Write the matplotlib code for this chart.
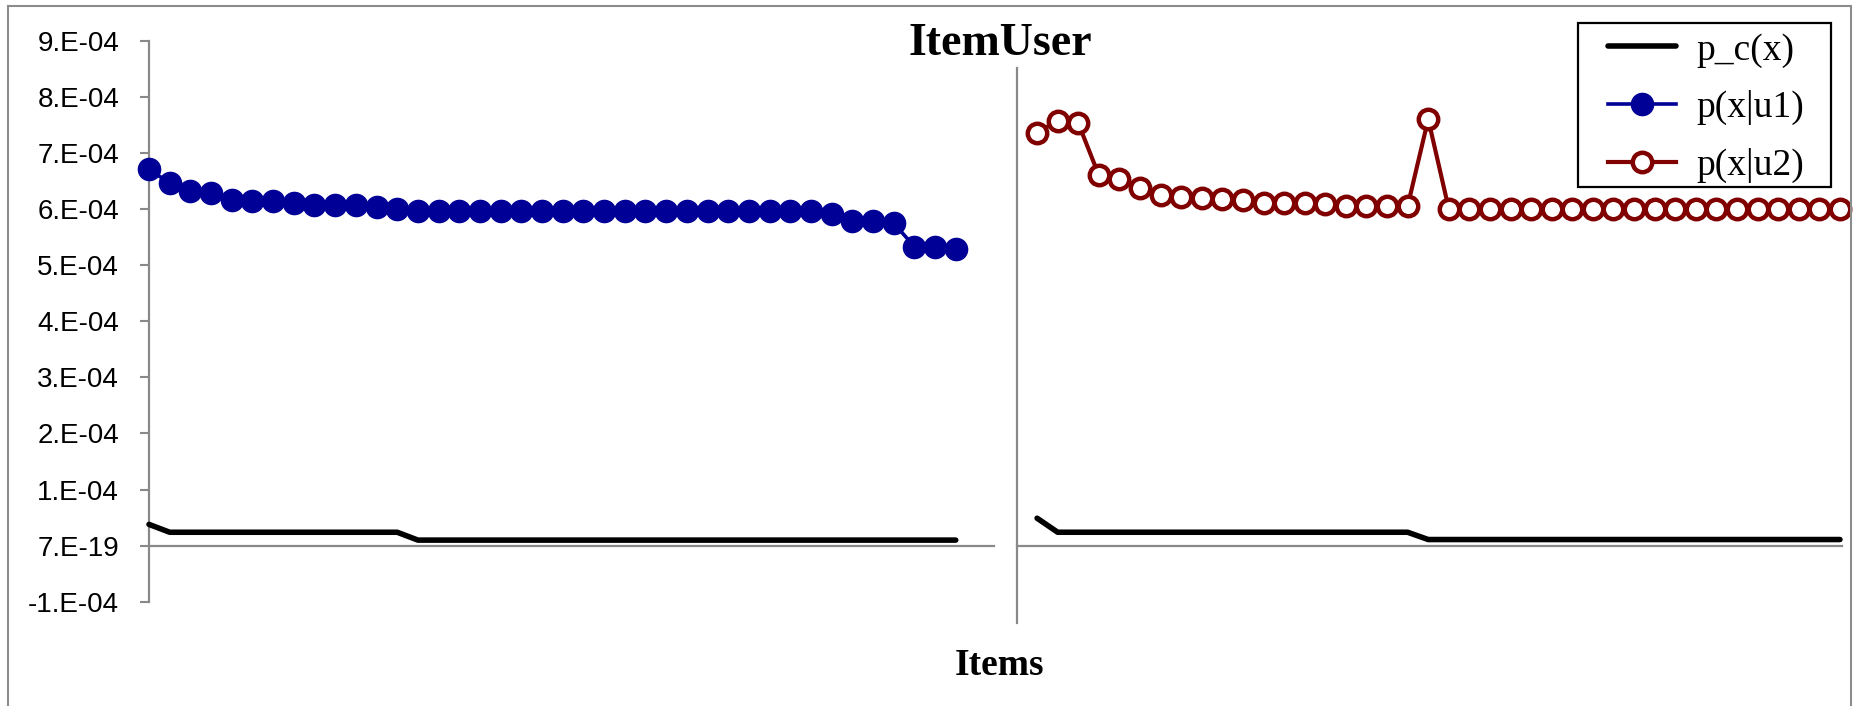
import matplotlib
matplotlib.use("Agg")
import matplotlib.pyplot as plt
from matplotlib.patches import Rectangle
from matplotlib.lines import Line2D
import numpy as np

# values, in units of 1e-4
scale = 1e-4
pc_left = [0.38, 0.24, 0.24, 0.24, 0.24, 0.24, 0.24, 0.24, 0.24, 0.24,
           0.24, 0.24, 0.24, 0.10, 0.10, 0.10, 0.10, 0.10, 0.10, 0.10,
           0.10, 0.10, 0.10, 0.10, 0.10, 0.10, 0.10, 0.10, 0.10, 0.10,
           0.10, 0.10, 0.10, 0.10, 0.10, 0.10, 0.10, 0.10, 0.10, 0.10]
p_u1 = [6.71, 6.46, 6.33, 6.29, 6.17, 6.15, 6.14, 6.10, 6.07, 6.07,
        6.07, 6.03, 6.00, 5.96, 5.96, 5.96, 5.96, 5.96, 5.96, 5.96,
        5.96, 5.96, 5.96, 5.96, 5.96, 5.96, 5.96, 5.96, 5.96, 5.96,
        5.96, 5.96, 5.96, 5.92, 5.79, 5.79, 5.75, 5.33, 5.33, 5.29]
pc_right = [0.49, 0.24, 0.24, 0.24, 0.24, 0.24, 0.24, 0.24, 0.24, 0.24,
            0.24, 0.24, 0.24, 0.24, 0.24, 0.24, 0.24, 0.24, 0.24, 0.11,
            0.11, 0.11, 0.11, 0.11, 0.11, 0.11, 0.11, 0.11, 0.11, 0.11,
            0.11, 0.11, 0.11, 0.11, 0.11, 0.11, 0.11, 0.11, 0.11, 0.11]
p_u2 = [7.36, 7.57, 7.53, 6.60, 6.53, 6.37, 6.25, 6.22, 6.19, 6.17,
        6.16, 6.11, 6.11, 6.10, 6.08, 6.05, 6.05, 6.05, 6.05, 7.60,
        6.00, 6.00, 6.00, 6.00, 6.00, 6.00, 6.00, 6.00, 6.00, 6.00,
        6.00, 6.00, 6.00, 6.00, 6.00, 6.00, 6.00, 6.00, 6.00, 6.00]

ytick_vals = [-1, 0, 1, 2, 3, 4, 5, 6, 7, 8, 9]
ytick_labels = ["-1.E-04", "7.E-19", "1.E-04", "2.E-04", "3.E-04", "4.E-04",
                "5.E-04", "6.E-04", "7.E-04", "8.E-04", "9.E-04"]
series_names = ["p_c(x)", "p(x|u1)", "p(x|u2)"]

W, H = 1855, 706
GRAY = "#898989"
BLUE = "#000096"
RED = "#800000"


def box(l, t, r, b):
    # pixel box -> figure fraction rect
    return [l / W, 1 - b / H, (r - l) / W, (b - t) / H]


fig = plt.figure(figsize=(W / 100, H / 100), dpi=100)
axL = fig.add_axes(box(149, 40.7, 994, 602))
axR = fig.add_axes(box(1016.7, 68, 1842, 623))

xs = np.arange(len(p_u1))

pc_style = dict(color="black", lw=4.0, solid_capstyle="round")
u1_style = dict(color=BLUE, lw=2.6, marker="o", ms=16, mfc=BLUE, mec=BLUE)
u2_style = dict(color=RED, lw=3.0, marker="o", ms=14, mfc="white",
                mec=RED, mew=3.2)

# left chart
axL.plot(xs, np.array(pc_left) * scale, clip_on=False, zorder=3, **pc_style)
axL.plot(xs, np.array(p_u1) * scale, clip_on=False, zorder=4, **u1_style)
axL.set_xlim(0, 40.85)
axL.set_ylim(-1.003 * scale, 8.997 * scale)
axL.set_yticks([v * scale for v in ytick_vals])
axL.set_yticklabels(ytick_labels, family="Liberation Sans", fontsize=20)
axL.tick_params(axis="y", direction="out", length=6.5, width=1.5,
                color=GRAY, pad=15)

# right chart
axR.plot(xs, np.array(pc_right) * scale, clip_on=False, zorder=3, **pc_style)
axR.plot(xs, np.array(p_u2) * scale, clip_on=False, zorder=4, **u2_style)
axR.set_xlim(-0.99, 39.1)
axR.set_ylim(-1.377 * scale, 8.511 * scale)
axR.set_yticks([])

for ax in (axL, axR):
    ax.set_xticks([])
    ax.spines["top"].set_visible(False)
    ax.spines["right"].set_visible(False)
    ax.spines["bottom"].set_position(("data", 0))
    for s in ("left", "bottom"):
        ax.spines[s].set_color(GRAY)
        ax.spines[s].set_linewidth(1.6)
    ax.patch.set_alpha(0)

# chart area border (bottom edge is off the picture)
fig.add_artist(Rectangle((8 / W, -0.05), (1850.5 - 8) / W, 1.05 - 6 / H,
                         transform=fig.transFigure, fill=False,
                         edgecolor="#8c8c8c", lw=1.5))

fig.text(1000 / W, 1 - 55 / H, "ItemUser", ha="center", va="baseline",
         fontsize=33, weight="bold", family="Liberation Serif")
fig.text(1000 / W, 1 - 675 / H, "Items", ha="center", va="baseline",
         fontsize=27, weight="bold", family="Liberation Serif")

# legend: frame drawn separately, Excel pads it unevenly
fig.add_artist(Rectangle((1578 / W, 1 - 187 / H), (1831 - 1578) / W,
                         (187 - 23) / H, transform=fig.transFigure,
                         fill=False, edgecolor="black", lw=1.6, zorder=5))
handles = [Line2D([], [], **pc_style), Line2D([], [], **u1_style),
           Line2D([], [], **u2_style)]
leg = fig.legend(handles, series_names, loc="center left",
                 bbox_to_anchor=(1608 / W, 1 - 108 / H), borderaxespad=0,
                 borderpad=0, prop={"family": "Liberation Serif", "size": 27},
                 frameon=False, handlelength=1.8, handletextpad=0.55,
                 labelspacing=0.6)

fig.savefig("out.png", dpi=100)
